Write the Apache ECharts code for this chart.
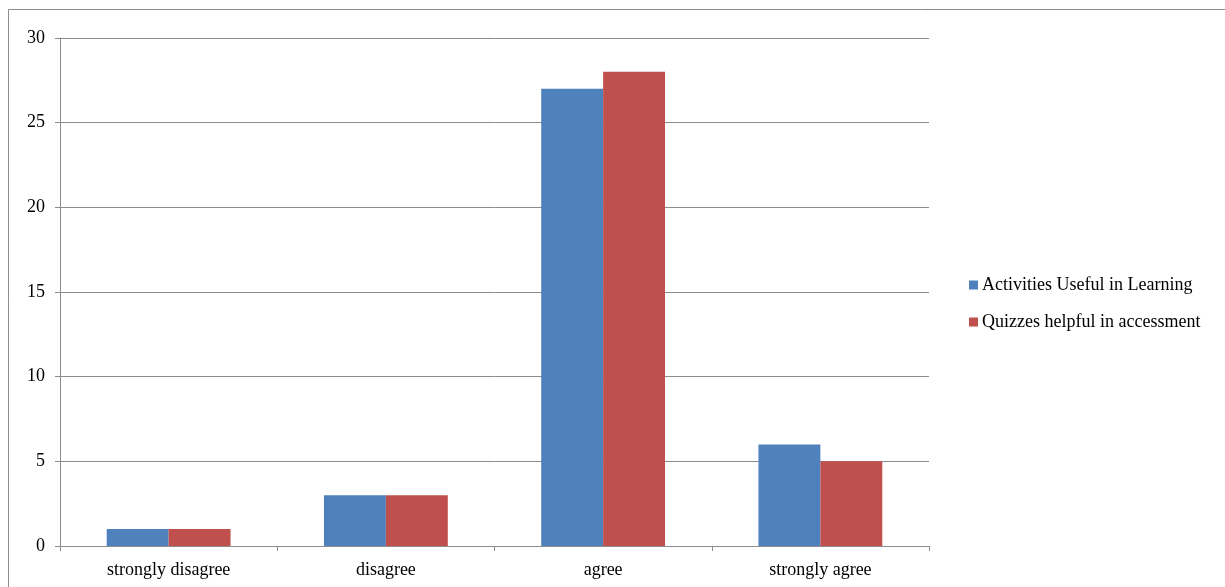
<!DOCTYPE html>
<html>
<head>
<meta charset="utf-8">
<script src="https://cdn.jsdelivr.net/npm/echarts@6/dist/echarts.min.js"></script>
<style>
  html, body { margin: 0; padding: 0; background: #fff; }
  #chart { width: 1225px; height: 587px; }
</style>
</head>
<body>
<div id="chart"></div>
<script>
// categories and values
const categories = ['strongly disagree', 'disagree', 'agree', 'strongly agree']
const activitiesUseful = [1, 3, 27, 6]
const quizzesHelpful = [1, 3, 28, 5]
const yTicks = [0, 5, 10, 15, 20, 25, 30]

const chart = echarts.init(document.getElementById('chart'))
const font = '"Liberation Serif", "DejaVu Serif", serif'
const grey = '#8c8c8c'

const option = {
  animation: false,
  textStyle: { fontFamily: font },
  // outer frame of the chart area
  graphic: [
    {
      type: 'rect',
      shape: { x: 8.5, y: 9.5, width: 1240, height: 600 },
      style: { fill: 'none', stroke: grey, lineWidth: 1 },
      silent: true
    }
  ],
  grid: {
    left: 60,
    right: 296,
    top: 38,
    bottom: 41,
    containLabel: false
  },
  legend: {
    orient: 'vertical',
    left: 969,
    top: 276,
    padding: 0,
    itemWidth: 9,
    itemHeight: 9,
    itemGap: 19,
    icon: 'rect',
    textStyle: { fontFamily: font, fontSize: 18, color: '#000', padding: [0, 0, 0, -1] },
    data: ['Activities Useful in Learning', 'Quizzes helpful in accessment']
  },
  xAxis: {
    type: 'category',
    data: categories,
    axisLine: { show: true, lineStyle: { color: grey, width: 1 } },
    axisTick: { show: true, alignWithLabel: false, length: 5, lineStyle: { color: grey } },
    axisLabel: { color: '#000', fontSize: 18, fontFamily: font, margin: 15 },
    splitLine: { show: false }
  },
  yAxis: {
    type: 'value',
    min: yTicks[0],
    max: yTicks[yTicks.length - 1],
    interval: 5,
    axisLine: { show: true, lineStyle: { color: grey, width: 1 } },
    axisTick: { show: true, length: 5, lineStyle: { color: grey } },
    axisLabel: { color: '#000', fontSize: 18, fontFamily: font, margin: 15 },
    splitLine: { show: true, lineStyle: { color: grey, width: 1 } }
  },
  series: [
    {
      name: 'Activities Useful in Learning',
      type: 'bar',
      data: activitiesUseful,
      barGap: '0%',
      barCategoryGap: '43%',
      itemStyle: { color: '#4F81BD' }
    },
    {
      name: 'Quizzes helpful in accessment',
      type: 'bar',
      data: quizzesHelpful,
      barGap: '0%',
      barCategoryGap: '43%',
      itemStyle: { color: '#C0504D' }
    }
  ]
}

chart.setOption(option)
</script>
</body>
</html>
